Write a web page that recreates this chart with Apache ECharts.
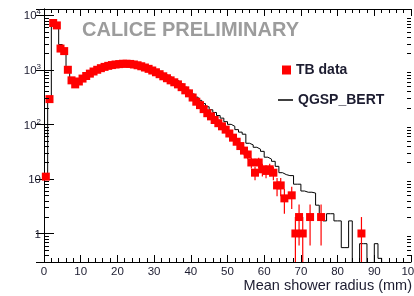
<!DOCTYPE html>
<html>
<head>
<meta charset="utf-8">
<script src="https://cdn.jsdelivr.net/npm/echarts@6/dist/echarts.min.js"></script>
<style>
html, body { margin: 0; padding: 0; background: #fff; }
#chart { width: 414px; height: 296px; }
</style>
</head>
<body>
<div id="chart"></div>
<script>
// 1 mm bins, index i covers [i, i+1)
const xMin = 0, xMax = 100
const yMin = 0.3, yMax = 13000

// TB data per bin (null = empty bin)
const tbValues = [
  11, 290, 7200, 6500, 2450, 2200, 1000, 640, 540, 610,
  690, 770, 850, 930, 1000, 1070, 1130, 1180, 1220, 1250,
  1270, 1290, 1290, 1280, 1250, 1210, 1160, 1100, 1040, 970,
  900, 830, 760, 700, 640, 590, 540, 480, 420, 370,
  310, 260, 225, 190, 160, 140, 120, 105, 92, 80,
  68, 57, 48, 40, 33, 28, 20, 13, 20, 15,
  14, 15, 13, 7.6, 7.6, 4.4, null, 5, 1, 2,
  1, null, 2, null, null, 2, null, null, null, null,
  null, null, null, null, null, null, 1, null, null, null,
  null, null, null, null, null, null, null, null, null, null
]
// error bars (0 = hidden by the marker)
const tbErrors = [
  0, 0, 0, 0, 0, 0, 0, 0, 0, 0,
  0, 0, 0, 0, 0, 0, 0, 0, 0, 0,
  0, 0, 0, 0, 0, 0, 0, 0, 0, 0,
  0, 0, 0, 0, 0, 0, 0, 0, 0, 0,
  0, 0, 0, 0, 0, 0, 0, 0, 0, 0,
  0, 0, 0, 0, 6, 5, 4.5, 3.6, 4.5, 3.9,
  3.7, 3.9, 3.6, 2.8, 2.8, 2.1, 0, 2.2, 1, 1.4,
  1, 0, 1.4, 0, 0, 1.4, 0, 0, 0, 0,
  0, 0, 0, 0, 0, 0, 1, 0, 0, 0,
  0, 0, 0, 0, 0, 0, 0, 0, 0, 0
]
// QGSP_BERT per bin (0 = empty bin)
const qgspValues = [
  10, 300, 7200, 6800, 2900, 2350, 1000, 590, 590, 640,
  700, 770, 850, 930, 1000, 1060, 1110, 1160, 1200, 1230,
  1250, 1270, 1280, 1270, 1250, 1220, 1180, 1130, 1080, 1020,
  960, 900, 840, 780, 720, 660, 610, 550, 480, 420,
  360, 315, 275, 240, 210, 185, 165, 145, 130, 112,
  100, 92, 80, 72, 66, 45, 42, 38, 35, 32,
  25, 23, 21, 17, 13, 12, 11.5, 11.5, 8, 8,
  6, 5.7, 5.7, 5.5, 3.3, 2, 1.7, 2.3, 2.3, 1.7,
  1.7, 0.55, 0.55, 1.7, 0, 0, 0.65, 0.65, 0, 0,
  0.65, 0.35, 0, 0, 0, 0, 0, 0, 0, 0
]
// y tick labels: mantissa text + exponent (drawn raised)
const decadeLabels = { '0': ['1', ''], '1': ['10', ''], '2': ['10', '2'], '3': ['10', '3'], '4': ['10', '4'] }

const floorValue = yMin / 10
const tbPoints = []
const tbBars = []
tbValues.forEach(function (v, i) {
  if (v == null) return
  const x = i + 0.5
  tbPoints.push([x, v])
  if (tbErrors[i] > 0) {
    tbBars.push([x, Math.max(v - tbErrors[i], floorValue), v + tbErrors[i]])
  }
})

const mcLine = []
qgspValues.forEach(function (v, i) {
  const y = v > 0 ? v : floorValue
  mcLine.push([i, y], [i + 1, y])
})

const minorTicks = []
for (let e = -1; e <= 4; e++) {
  for (let m = 2; m <= 9; m++) {
    const v = m * Math.pow(10, e)
    if (v > yMin && v < yMax) minorTicks.push([xMin, v])
  }
}

const textColor = '#1c1c30'
const font = 'Liberation Sans, Arial, sans-serif'

const chart = echarts.init(document.getElementById('chart'), null, { renderer: 'canvas' })
chart.setOption({
  animation: false,
  textStyle: { fontFamily: font },
  grid: { left: 44, right: 3, top: 9, bottom: 34, outerBoundsMode: 'none' },
  title: [
    {
      text: 'CALICE PRELIMINARY',
      left: 82, top: 20, padding: 0,
      textStyle: { fontSize: 20, fontWeight: 'bold', color: '#9c9c9c', fontFamily: font }
    },
    {
      text: 'Mean shower radius (mm)',
      right: 2, top: 278, padding: 0,
      textStyle: { fontSize: 14.5, fontWeight: 'normal', color: textColor, fontFamily: font }
    }
  ],
  legend: [
    {
      data: [{ name: 'TB data', icon: 'rect' }],
      left: 282, top: 63, padding: 0,
      itemWidth: 9, itemHeight: 9,
      textStyle: { fontSize: 14, fontWeight: 'bold', color: textColor, fontFamily: font }
    },
    {
      data: [{ name: 'QGSP_BERT', icon: 'rect' }],
      left: 278, top: 93, padding: 0,
      itemWidth: 15, itemHeight: 1.5,
      itemStyle: { color: '#000' },
      textStyle: { fontSize: 14, fontWeight: 'bold', color: textColor, fontFamily: font }
    }
  ],
  xAxis: [
    {
      type: 'value', min: xMin, max: xMax, interval: 10,
      axisLine: { lineStyle: { color: '#000', width: 1 } },
      axisTick: { inside: true, length: 7, lineStyle: { color: '#000' } },
      minorTick: { show: true, splitNumber: 5, length: 4, lineStyle: { color: '#000' } },
      axisLabel: { color: textColor, fontSize: 11.5, margin: 4, alignMaxLabel: 'center', alignMinLabel: 'center' },
      splitLine: { show: false }
    },
    {
      type: 'value', min: xMin, max: xMax, interval: 10, position: 'top',
      axisLine: { lineStyle: { color: '#000', width: 1 } },
      axisTick: { inside: true, length: 7, lineStyle: { color: '#000' } },
      minorTick: { show: true, splitNumber: 5, length: 4, lineStyle: { color: '#000' } },
      axisLabel: { show: false },
      splitLine: { show: false }
    }
  ],
  yAxis: [
    {
      type: 'log', min: yMin, max: yMax,
      axisLine: { show: true, lineStyle: { color: '#000', width: 1 } },
      axisTick: { show: true, inside: true, length: 10, lineStyle: { color: '#000' } },
      axisLabel: {
        color: textColor, fontSize: 11.5, margin: 3,
        showMinLabel: false, showMaxLabel: false,
        formatter: function (v) {
          const e = Math.log10(v)
          const r = Math.round(e)
          if (Math.abs(e - r) > 1e-6) return ''
          const lab = decadeLabels[String(r)]
          if (!lab) return ''
          return lab[1] ? '{m|' + lab[0] + '}{s|' + lab[1] + '}' : '{m|' + lab[0] + '}'
        },
        rich: {
          m: { fontSize: 11.5, color: textColor, fontFamily: font, lineHeight: 14, verticalAlign: 'bottom' },
          s: { fontSize: 8, color: textColor, fontFamily: font, lineHeight: 14, verticalAlign: 'top' }
        }
      },
      splitLine: { show: false }
    },
    {
      type: 'log', min: yMin, max: yMax, position: 'right',
      axisLine: { show: true, lineStyle: { color: '#000', width: 1 } },
      axisTick: { show: true, inside: true, length: 8, lineStyle: { color: '#000' } },
      axisLabel: { show: false },
      splitLine: { show: false }
    }
  ],
  series: [
    {
      name: 'QGSP_BERT',
      type: 'line',
      data: mcLine,
      showSymbol: false,
      symbol: 'none',
      clip: true,
      lineStyle: { color: '#000', width: 1 },
      itemStyle: { color: '#000' },
      z: 2
    },
    {
      name: 'TB errors',
      type: 'custom',
      data: tbBars,
      clip: true,
      z: 3,
      renderItem: function (params, api) {
        const lo = api.coord([api.value(0), api.value(1)])
        const hi = api.coord([api.value(0), api.value(2)])
        return {
          type: 'line',
          shape: { x1: lo[0], y1: lo[1], x2: hi[0], y2: hi[1] },
          style: { stroke: '#ff0000', lineWidth: 1.2 }
        }
      }
    },
    {
      name: 'TB data',
      type: 'scatter',
      data: tbPoints,
      symbol: 'rect',
      symbolSize: 8,
      itemStyle: { color: '#ff0000', opacity: 1 },
      clip: true,
      z: 4
    },
    {
      name: 'minor ticks',
      type: 'custom',
      data: minorTicks,
      silent: true,
      z: 5,
      renderItem: function (params, api) {
        const l = api.coord([xMin, api.value(1)])
        const r = api.coord([xMax, api.value(1)])
        const y = Math.round(l[1]) + 0.5
        return {
          type: 'group',
          children: [
            { type: 'line', shape: { x1: l[0], y1: y, x2: l[0] + 5, y2: y }, style: { stroke: '#000', lineWidth: 1 } },
            { type: 'line', shape: { x1: r[0], y1: y, x2: r[0] - 4, y2: y }, style: { stroke: '#000', lineWidth: 1 } }
          ]
        }
      }
    }
  ]
})
</script>
</body>
</html>
